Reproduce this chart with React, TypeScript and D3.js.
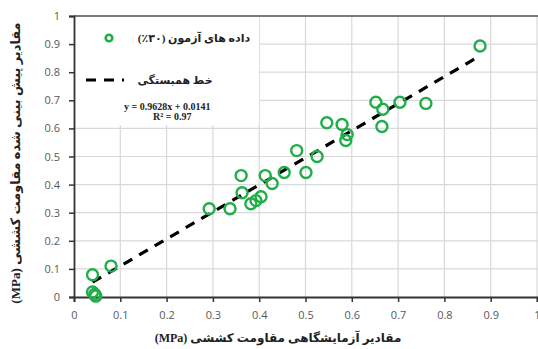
import React, { useEffect, useRef } from 'react';
import * as d3 from 'd3';

// test data (30%)
const measured = [0.04, 0.04, 0.045, 0.047, 0.08, 0.292, 0.337, 0.361, 0.363, 0.382, 0.393, 0.404, 0.413, 0.428, 0.454, 0.481, 0.501, 0.525, 0.546, 0.579, 0.587, 0.59, 0.652, 0.665, 0.667, 0.704, 0.76, 0.877];
const predicted = [0.079, 0.018, 0.01, 0.003, 0.11, 0.314, 0.314, 0.432, 0.371, 0.332, 0.343, 0.357, 0.432, 0.404, 0.443, 0.521, 0.443, 0.5, 0.62, 0.614, 0.557, 0.578, 0.693, 0.607, 0.668, 0.693, 0.689, 0.893];
const xTicks = [0, 0.1, 0.2, 0.3, 0.4, 0.5, 0.6, 0.7, 0.8, 0.9, 1];
const yTicks = [0, 0.1, 0.2, 0.3, 0.4, 0.5, 0.6, 0.7, 0.8, 0.9, 1];
const slope = 0.9628;
const intercept = 0.0141;
const fitRange = [0.04, 0.877];

const W = 538;
const H = 349;
const green = '#20ad4a';
const serif = '"Liberation Serif", "DejaVu Serif", "DejaVu Sans", serif';

const App = () => {
  const svgRef = useRef(null);

  useEffect(() => {
    const svg = d3.select(svgRef.current);
    svg.selectAll('*').remove();

    const x = d3.scaleLinear().domain([0, 1]).range([74, 537]);
    const y = d3.scaleLinear().domain([0, 1]).range([297, 16]);

    // grid
    svg.append('g')
      .selectAll('line')
      .data(xTicks.slice(1))
      .enter()
      .append('line')
      .attr('x1', d => x(d)).attr('x2', d => x(d))
      .attr('y1', y(1)).attr('y2', y(0))
      .attr('stroke', '#d9d9d9').attr('stroke-width', 1.2);
    svg.append('g')
      .selectAll('line')
      .data(yTicks.slice(1))
      .enter()
      .append('line')
      .attr('x1', x(0)).attr('x2', W)
      .attr('y1', d => y(d)).attr('y2', d => y(d))
      .attr('stroke', '#d9d9d9').attr('stroke-width', 1.2);

    // legend box covers the grid
    svg.append('rect')
      .attr('x', x(0) + 1).attr('y', y(1) + 1)
      .attr('width', 184).attr('height', 108)
      .attr('fill', '#fff');

    // top border
    svg.append('line')
      .attr('x1', x(0)).attr('x2', W)
      .attr('y1', y(1)).attr('y2', y(1))
      .attr('stroke', '#555').attr('stroke-width', 1.5);

    // axes
    const xAxis = svg.append('g')
      .attr('transform', `translate(0,${y(0)})`)
      .call(d3.axisBottom(x).tickValues(xTicks).tickSize(5).tickPadding(9).tickFormat(d3.format('')));
    const yAxis = svg.append('g')
      .attr('transform', `translate(${x(0)},0)`)
      .call(d3.axisLeft(y).tickValues(yTicks).tickSize(5).tickPadding(9).tickFormat(d3.format('')));
    [xAxis, yAxis].forEach(a => {
      a.select('.domain').attr('stroke', '#333').attr('stroke-width', 1.8);
      a.selectAll('.tick line').attr('stroke', '#333').attr('stroke-width', 1.5);
      a.selectAll('.tick text')
        .attr('fill', '#595959')
        .style('font-family', '"Open Sans", "DejaVu Sans", sans-serif')
        .style('font-size', '11px');
    });

    // regression line
    svg.append('line')
      .attr('x1', x(fitRange[0])).attr('y1', y(slope * fitRange[0] + intercept))
      .attr('x2', x(fitRange[1])).attr('y2', y(slope * fitRange[1] + intercept))
      .attr('stroke', '#000').attr('stroke-width', 3.2)
      .attr('stroke-dasharray', '10,8');

    // points
    svg.append('g')
      .selectAll('circle')
      .data(measured.map((m, i) => [m, predicted[i]]))
      .enter()
      .append('circle')
      .attr('cx', d => x(d[0]))
      .attr('cy', d => y(d[1]))
      .attr('r', 5.5)
      .attr('fill', 'none')
      .attr('stroke', green)
      .attr('stroke-width', 2.4);

    // legend
    svg.append('circle')
      .attr('cx', 109).attr('cy', 38).attr('r', 3.3)
      .attr('fill', 'none').attr('stroke', green).attr('stroke-width', 2.6);
    svg.append('text')
      .attr('x', 194).attr('y', 42)
      .attr('text-anchor', 'middle')
      .attr('direction', 'rtl')
      .style('font-family', serif).style('font-weight', 'bold').style('font-size', '11px')
      .attr('fill', '#222')
      .text('داده های آزمون (۳۰٪)');
    svg.append('line')
      .attr('x1', 86).attr('x2', 124).attr('y1', 80).attr('y2', 80)
      .attr('stroke', '#000').attr('stroke-width', 3.2)
      .attr('stroke-dasharray', '10,8');
    svg.append('text')
      .attr('x', 175).attr('y', 84)
      .attr('text-anchor', 'middle')
      .attr('direction', 'rtl')
      .style('font-family', serif).style('font-weight', 'bold').style('font-size', '11px')
      .attr('fill', '#222')
      .text('خط همبستگی');
    svg.append('text')
      .attr('x', 124).attr('y', 110)
      .attr('text-anchor', 'start')
      .style('font-family', serif).style('font-weight', 'bold').style('font-size', '10px')
      .attr('fill', '#222')
      .text(`y = ${slope}x + ${intercept}`);
    svg.append('text')
      .attr('x', 153).attr('y', 120)
      .attr('text-anchor', 'start')
      .style('font-family', serif).style('font-weight', 'bold').style('font-size', '10px')
      .attr('fill', '#222')
      .text('R² = 0.97');

    // axis titles
    svg.append('text')
      .attr('x', 278).attr('y', 342)
      .attr('text-anchor', 'middle')
      .attr('direction', 'rtl')
      .style('font-family', serif).style('font-weight', 'bold').style('font-size', '12px')
      .attr('fill', '#222')
      .text('مقادیر آزمایشگاهی مقاومت کششی (MPa)');
    svg.append('text')
      .attr('transform', `translate(20,${163}) rotate(-90)`)
      .attr('text-anchor', 'middle')
      .attr('direction', 'rtl')
      .style('font-family', serif).style('font-weight', 'bold').style('font-size', '13px')
      .attr('fill', '#222')
      .text('مقادیر پیش بینی شده مقاومت کششی (MPa)');
  }, []);

  return (
    <svg ref={svgRef} width={W} height={H}
      style={{ position: 'fixed', left: 0, top: 0, background: '#fff' }} />
  );
};

export default App;
